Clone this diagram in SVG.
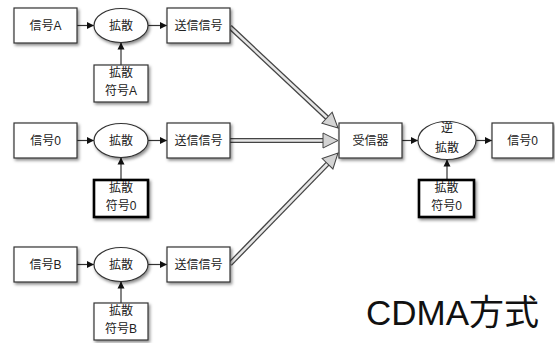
<svg xmlns="http://www.w3.org/2000/svg" width="555" height="343" viewBox="0 0 555 343">
<style>
.box{fill:#fff;stroke:#333;stroke-width:1.2;filter:url(#sh)}
.bold{fill:#fff;stroke:#000;stroke-width:2.6;filter:url(#sh)}
.ell{fill:#fff;stroke:#333;stroke-width:1.2;filter:url(#sh)}
.t{font-family:"Liberation Sans","Noto Sans CJK JP",sans-serif;font-size:12px;fill:#222;text-anchor:middle}
.big{font-family:"Liberation Sans","Noto Sans CJK JP",sans-serif;font-size:35px;fill:#111}
.ln{stroke:#333;stroke-width:1.2;fill:none;marker-end:url(#ah)}
.outer{stroke:#444;stroke-width:5.2;fill:none}
.inner{stroke:#e6e6e6;stroke-width:2.6;fill:none;marker-end:url(#bh)}
</style>
<defs>
<filter id="sh" x="-20%" y="-20%" width="150%" height="160%">
<feDropShadow dx="1.5" dy="2" stdDeviation="1.4" flood-color="#000" flood-opacity="0.45"/>
</filter>
<marker id="ah" markerUnits="userSpaceOnUse" markerWidth="10" markerHeight="10" refX="7" refY="3.5" orient="auto" overflow="visible">
<path d="M0,0 L7,3.5 L0,7 z" fill="#111"/>
</marker>
<marker id="bh" markerUnits="userSpaceOnUse" markerWidth="20" markerHeight="20" refX="0" refY="0" orient="auto" overflow="visible">
<path d="M0,-7.5 L15,0 L0,7.5 z" fill="#d4d4d4" stroke="#444" stroke-width="1"/>
</marker>
</defs>
<rect width="555" height="343" fill="#fff"/>

<g id="connectors">
<line class="ln" x1="77" y1="25.5" x2="94" y2="25.5"/>
<line class="ln" x1="148" y1="25.5" x2="167" y2="25.5"/>
<line class="ln" x1="121" y1="65" x2="121" y2="42.5"/>
<line class="ln" x1="77" y1="140.5" x2="94" y2="140.5"/>
<line class="ln" x1="148" y1="140.5" x2="167" y2="140.5"/>
<line class="ln" x1="121" y1="180" x2="121" y2="157.5"/>
<line class="ln" x1="77" y1="264.5" x2="94" y2="264.5"/>
<line class="ln" x1="148" y1="264.5" x2="167" y2="264.5"/>
<line class="ln" x1="121" y1="303" x2="121" y2="281.5"/>
<line class="ln" x1="402" y1="140.5" x2="418" y2="140.5"/>
<line class="ln" x1="476" y1="140.5" x2="492" y2="140.5"/>
<line class="ln" x1="447" y1="180" x2="447" y2="159.5"/>
<line class="outer" x1="230" y1="27" x2="327.05" y2="117.76"/>
<line class="inner" x1="230" y1="27" x2="327.05" y2="117.76"/>
<line class="outer" x1="230" y1="140.5" x2="323" y2="140.5"/>
<line class="inner" x1="230" y1="140.5" x2="323" y2="140.5"/>
<line class="outer" x1="230" y1="264" x2="327.54" y2="163.75"/>
<line class="inner" x1="230" y1="264" x2="327.54" y2="163.75"/>
</g>

<g id="sigA"><rect class="box" x="14" y="8" width="63" height="35"/><text class="t" x="45.5" y="30">信号A</text></g>
<g id="spreadA"><ellipse class="ell" cx="121" cy="25.5" rx="27" ry="17"/><text class="t" x="121" y="30">拡散</text></g>
<g id="txA"><rect class="box" x="167" y="8" width="63" height="35"/><text class="t" x="198.5" y="30">送信信号</text></g>
<g id="codeA"><rect class="box" x="94" y="65" width="54" height="37"/><text class="t" x="121" y="77">拡散</text><text class="t" x="121" y="95">符号A</text></g>

<g id="sig0"><rect class="box" x="14" y="123" width="63" height="35"/><text class="t" x="45.5" y="145">信号0</text></g>
<g id="spread0"><ellipse class="ell" cx="121" cy="140.5" rx="27" ry="17"/><text class="t" x="121" y="145">拡散</text></g>
<g id="tx0"><rect class="box" x="167" y="123" width="63" height="35"/><text class="t" x="198.5" y="145">送信信号</text></g>
<g id="code0"><rect class="bold" x="94" y="180" width="54" height="37"/><text class="t" x="121" y="192">拡散</text><text class="t" x="121" y="210">符号0</text></g>

<g id="sigB"><rect class="box" x="14" y="247" width="63" height="35"/><text class="t" x="45.5" y="269">信号B</text></g>
<g id="spreadB"><ellipse class="ell" cx="121" cy="264.5" rx="27" ry="17"/><text class="t" x="121" y="269">拡散</text></g>
<g id="txB"><rect class="box" x="167" y="247" width="63" height="35"/><text class="t" x="198.5" y="269">送信信号</text></g>
<g id="codeB"><rect class="box" x="94" y="303" width="54" height="37"/><text class="t" x="121" y="315">拡散</text><text class="t" x="121" y="333">符号B</text></g>

<g id="receiver"><rect class="box" x="339" y="123" width="63" height="35"/><text class="t" x="370.5" y="145">受信器</text></g>
<g id="despread"><ellipse class="ell" cx="447" cy="140.5" rx="29" ry="19"/><text class="t" x="447" y="132">逆</text><text class="t" x="447" y="152">拡散</text></g>
<g id="out0"><rect class="box" x="492" y="123" width="61" height="35"/><text class="t" x="522.5" y="145">信号0</text></g>
<g id="codeR"><rect class="bold" x="419" y="180" width="55" height="37"/><text class="t" x="446.5" y="192">拡散</text><text class="t" x="446.5" y="210">符号0</text></g>

<text class="big" x="366" y="325">CDMA方式</text>
</svg>
